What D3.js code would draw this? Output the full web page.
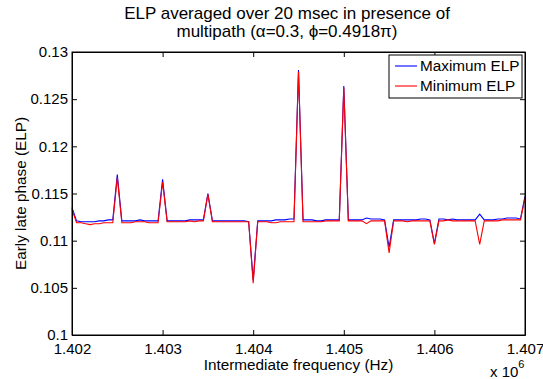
<!DOCTYPE html>
<html>
<head>
<meta charset="utf-8">
<script src="https://cdn.jsdelivr.net/npm/d3@7"></script>
<style>
  body { margin: 0; background: #fff; }
  text { font-family: Arial, "Liberation Sans", sans-serif; fill: #000; }
</style>
</head>
<body>
<script>
// frequency samples: 1.402 MHz to 1.407 MHz in 50 Hz steps
var freqStart = 1.402e6, freqStep = 50;

var maxElp = [
  0.1135, 0.1121, 0.1120, 0.1120, 0.1120, 0.1120, 0.1121, 0.1121, 0.1122, 0.1122,
  0.1170, 0.1121, 0.1121, 0.1121, 0.1121, 0.1122, 0.1121, 0.1121, 0.1121, 0.1121,
  0.1165, 0.1121, 0.1121, 0.1121, 0.1121, 0.1121, 0.1122, 0.1122, 0.1122, 0.1122,
  0.1150, 0.1121, 0.1121, 0.1121, 0.1121, 0.1121, 0.1121, 0.1121, 0.1121, 0.1120,
  0.1058, 0.1121, 0.1121, 0.1121, 0.1121, 0.1122, 0.1122, 0.1122, 0.1123, 0.1123,
  0.1281, 0.1122, 0.1122, 0.1122, 0.1121, 0.1121, 0.1122, 0.1122, 0.1122, 0.1122,
  0.1264, 0.1122, 0.1122, 0.1122, 0.1122, 0.1124, 0.1123, 0.1123, 0.1123, 0.1122,
  0.1093, 0.1122, 0.1122, 0.1122, 0.1122, 0.1122, 0.1122, 0.1123, 0.1123, 0.1122,
  0.1097, 0.1123, 0.1123, 0.1122, 0.1123, 0.1122, 0.1122, 0.1122, 0.1122, 0.1122,
  0.1128, 0.1122, 0.1122, 0.1122, 0.1123, 0.1123, 0.1124, 0.1124, 0.1124, 0.1123,
  0.1147
];

var minElp = [
  0.1133, 0.1119, 0.1119, 0.1118, 0.1117, 0.1118, 0.1118, 0.1119, 0.1119, 0.1119,
  0.1167, 0.1119, 0.1119, 0.1119, 0.1120, 0.1120, 0.1120, 0.1119, 0.1119, 0.1119,
  0.1162, 0.1120, 0.1120, 0.1120, 0.1120, 0.1120, 0.1121, 0.1120, 0.1121, 0.1121,
  0.1149, 0.1120, 0.1120, 0.1120, 0.1120, 0.1120, 0.1120, 0.1120, 0.1120, 0.1120,
  0.1055, 0.1120, 0.1120, 0.1120, 0.1119, 0.1119, 0.1120, 0.1120, 0.1120, 0.1120,
  0.1279, 0.1120, 0.1120, 0.1120, 0.1120, 0.1120, 0.1121, 0.1121, 0.1121, 0.1121,
  0.1262, 0.1121, 0.1121, 0.1121, 0.1121, 0.1118, 0.1121, 0.1121, 0.1121, 0.1121,
  0.1087, 0.1121, 0.1121, 0.1121, 0.1120, 0.1121, 0.1121, 0.1121, 0.1121, 0.1121,
  0.1096, 0.1121, 0.1121, 0.1122, 0.1121, 0.1121, 0.1121, 0.1121, 0.1121, 0.1121,
  0.1096, 0.1121, 0.1121, 0.1121, 0.1121, 0.1122, 0.1122, 0.1122, 0.1122, 0.1122,
  0.1145
];

var xTicks = [1.402e6, 1.403e6, 1.404e6, 1.405e6, 1.406e6, 1.407e6];
var yTicks = [0.1, 0.105, 0.11, 0.115, 0.12, 0.125, 0.13];
var seriesNames = ["Maximum ELP", "Minimum ELP"];
var seriesColors = ["#0000ff", "#ff0000"];

var W = 543, H = 379;
var margin = {top: 52, right: 18, bottom: 44, left: 72},
    width = W - margin.left - margin.right,
    height = H - margin.top - margin.bottom;

var x = d3.scaleLinear().domain([1.402e6, 1.407e6]).range([0, width]);
var y = d3.scaleLinear().domain([0.1, 0.13]).range([height, 0]);

var svg = d3.select("body").append("svg")
            .attr("width", W)
            .attr("height", H);

var g = svg.append("g")
           .attr("transform", "translate(" + margin.left + "," + margin.top + ")");

// lines
var line = d3.line()
  .x(function (d, i) { return x(freqStart + i * freqStep); })
  .y(function (d) { return y(d); });

[maxElp, minElp].forEach(function (s, k) {
  g.append("path")
   .datum(s)
   .attr("fill", "none")
   .attr("stroke", seriesColors[k])
   .attr("stroke-width", 1.1)
   .attr("d", line);
});

// axes, matlab style: ticks inside on all four sides
var fmtX = function (d) { return d3.format(".3f")(d / 1e6); };
var fmtY = function (d) { return String(+d.toFixed(3)); };

var ax = g.append("g")
  .attr("transform", "translate(0," + height + ")")
  .call(d3.axisBottom(x).tickValues(xTicks).tickFormat(fmtX).tickSizeInner(-5).tickSizeOuter(0).tickPadding(8));
var ay = g.append("g")
  .call(d3.axisLeft(y).tickValues(yTicks).tickFormat(fmtY).tickSizeInner(-5).tickSizeOuter(0).tickPadding(4));
var at = g.append("g")
  .call(d3.axisTop(x).tickValues(xTicks).tickFormat("").tickSizeInner(-5).tickSizeOuter(0));
var ar = g.append("g")
  .attr("transform", "translate(" + width + ",0)")
  .call(d3.axisRight(y).tickValues(yTicks).tickFormat("").tickSizeInner(-5).tickSizeOuter(0));

[ax, ay, at, ar].forEach(function (a) {
  a.selectAll("text").style("font-size", "15px").attr("font-family", null);
  a.selectAll("line").attr("stroke", "#000");
  a.select(".domain").attr("stroke", "#000");
});
ax.selectAll("text").attr("dy", "0.71em");

g.append("rect")
 .attr("width", width).attr("height", height)
 .attr("fill", "none").attr("stroke", "#000").attr("stroke-width", 1);

// titles
var titleX = 287;
svg.append("text").attr("x", titleX).attr("y", 19)
   .attr("text-anchor", "middle").style("font-size", "17px")
   .text("ELP averaged over 20 msec in presence of");
svg.append("text").attr("x", titleX).attr("y", 37)
   .attr("text-anchor", "middle").style("font-size", "17px")
   .text("multipath (\u03b1=0.3, \u03d5=0.4918\u03c0)");

svg.append("text").attr("x", margin.left + width / 2).attr("y", 370)
   .attr("text-anchor", "middle").style("font-size", "15.3px")
   .text("Intermediate frequency (Hz)");

svg.append("text")
   .attr("transform", "translate(26," + (margin.top + height / 2) + ") rotate(-90)")
   .attr("text-anchor", "middle").style("font-size", "15.3px")
   .text("Early late phase (ELP)");

var mult = svg.append("text").attr("x", 490).attr("y", 377).style("font-size", "15px");
mult.append("tspan").text("x 10");
mult.append("tspan").attr("dy", -9).style("font-size", "11px").text("6");

// legend
var leg = g.append("g").attr("transform", "translate(" + (width - 136) + ",3)");
leg.append("rect").attr("width", 133).attr("height", 43)
   .attr("fill", "#fff").attr("stroke", "#000");
seriesNames.forEach(function (n, k) {
  var yy = 11 + k * 20;
  leg.append("line").attr("x1", 6).attr("x2", 28).attr("y1", yy).attr("y2", yy)
     .attr("stroke", seriesColors[k]).attr("stroke-width", 1.1);
  leg.append("text").attr("x", 31).attr("y", yy + 5).style("font-size", "15.3px").text(n);
});
</script>
</body>
</html>
